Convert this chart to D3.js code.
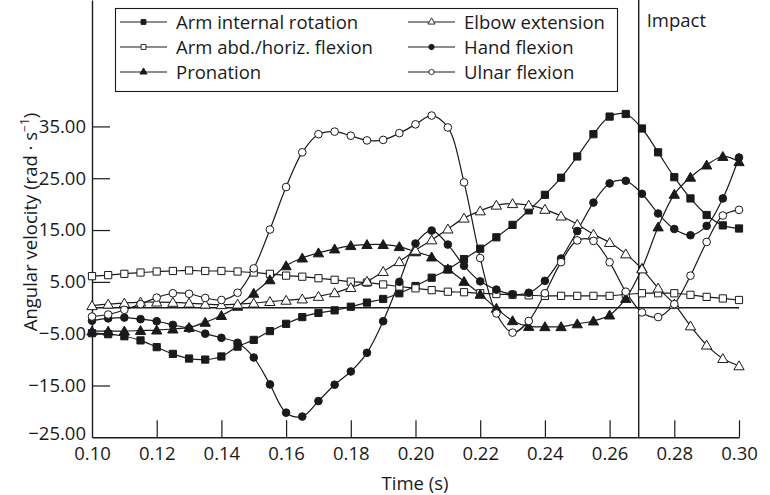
<!DOCTYPE html>
<html>
<head>
<meta charset="utf-8">
<script src="https://cdn.jsdelivr.net/npm/d3@7"></script>
<style>
  html, body { margin: 0; padding: 0; background: #fff; }
  svg { display: block; }
  text { font-family: "Open Sans", "Noto Sans", sans-serif; fill: #1a1a1a; }
</style>
</head>
<body>
<div id="chart"></div>
<script>
// ---- Data ----
const times = [0.100, 0.105, 0.110, 0.115, 0.120, 0.125, 0.130, 0.135, 0.140, 0.145,
               0.150, 0.155, 0.160, 0.165, 0.170, 0.175, 0.180, 0.185, 0.190, 0.195,
               0.200, 0.205, 0.210, 0.215, 0.220, 0.225, 0.230, 0.235, 0.240, 0.245,
               0.250, 0.255, 0.260, 0.265, 0.270, 0.275, 0.280, 0.285, 0.290, 0.295, 0.300];

const armInternalRotation = [-4.9, -5.1, -5.5, -6.3, -7.6, -8.9, -9.8, -10.0, -9.4, -7.5,
  -6.2, -4.5, -3.1, -1.8, -1.0, -0.5, 0.2, 1.0, 1.7, 2.8,
  4.2, 5.8, 7.4, 9.4, 11.4, 13.6, 16.0, 18.8, 21.8, 25.1,
  29.2, 33.5, 36.9, 37.4, 34.6, 30.0, 25.2, 21.1, 17.9, 15.9, 15.3];

const armAbdHorizFlexion = [6.1, 6.3, 6.55, 6.8, 7.0, 7.1, 7.2, 7.1, 7.1, 7.0,
  6.8, 6.55, 6.2, 6.0, 5.7, 5.4, 5.05, 4.85, 4.5, 4.1,
  3.75, 3.4, 3.1, 3.0, 2.8, 2.65, 2.5, 2.4, 2.3, 2.3,
  2.3, 2.3, 2.3, 2.6, 2.8, 2.8, 2.8, 2.5, 2.1, 1.8, 1.5];

const pronation = [-4.5, -4.5, -4.5, -4.4, -4.3, -4.1, -3.8, -2.8, -1.5, 0.3,
  2.8, 5.4, 8.1, 9.6, 10.6, 11.35, 12.0, 12.2, 12.2, 11.8,
  10.8, 9.8, 7.5, 5.1, 2.6, -0.1, -2.5, -3.6, -3.65, -3.65,
  -3.1, -2.55, -1.4, 1.8, 7.6, 15.6, 21.9, 25.2, 27.55, 29.2, 28.2];

const elbowExtension = [0.4, 0.7, 0.9, 1.1, 1.1, 1.05, 0.9, 0.7, 0.6, 0.7,
  0.9, 1.2, 1.45, 1.7, 2.2, 2.9, 3.9, 5.1, 7.0, 8.9,
  11.1, 13.1, 15.2, 17.3, 18.7, 19.8, 20.1, 19.8, 19.0, 17.7,
  16.1, 14.2, 12.6, 10.4, 7.5, 3.8, 0.7, -3.5, -7.2, -9.8, -11.2];

const handFlexion = [-2.5, -2.05, -1.9, -2.2, -2.6, -3.3, -4.0, -5.0, -5.8, -6.75,
  -9.6, -14.8, -20.25, -21.0, -18.0, -14.85, -12.3, -8.7, -2.6, 5.0,
  12.4, 14.9, 12.2, 8.1, 5.1, 3.5, 2.6, 2.9, 5.2, 9.5,
  14.8, 20.3, 24.0, 24.5, 22.0, 18.2, 15.2, 14.0, 15.8, 21.1, 29.0];

const ulnarFlexion = [-1.7, -1.3, -0.4, 0.7, 1.95, 2.8, 2.7, 1.9, 1.5, 2.9,
  7.6, 15.1, 23.3, 30.0, 33.5, 34.0, 33.2, 32.3, 32.4, 33.7,
  35.4, 37.1, 34.8, 24.2, 9.6, -1.1, -4.8, -2.55, 2.8, 8.8,
  13.0, 12.9, 8.8, 3.1, -0.9, -1.8, 0.7, 6.2, 12.7, 17.8, 18.9];

const seriesNames = ["Arm internal rotation", "Arm abd./horiz. flexion", "Pronation",
                     "Elbow extension", "Hand flexion", "Ulnar flexion"];
const seriesValues = [armInternalRotation, armAbdHorizFlexion, pronation,
                      elbowExtension, handFlexion, ulnarFlexion];
const markerShapes = ["square", "square", "triangle", "triangle", "circle", "circle"];
const markerFilled = [true, false, true, false, true, false];

const xTickValues = [0.10, 0.12, 0.14, 0.16, 0.18, 0.20, 0.22, 0.24, 0.26, 0.28, 0.30];
const yTickValues = [-25, -15, -5, 5, 15, 25, 35];
const impactTime = 0.269;

// ---- Layout ----
const W = 770, H = 495;
const ink = "#1a1a1a";
const svg = d3.select("#chart").append("svg").attr("width", W).attr("height", H);

const x = d3.scaleLinear().domain([0.10, 0.30]).range([92, 739]);
const y = d3.scaleLinear().domain([-25, 59.4]).range([437.3, 0]);

// Axes
const fmt = d3.format(".2f");
const minusFmt = v => fmt(v).replace("-", "\u2212");

const yAxis = svg.append("g").attr("transform", `translate(${x(0.10)},0)`)
  .call(d3.axisLeft(y).tickValues(yTickValues).tickSizeInner(-18).tickSizeOuter(0)
        .tickPadding(6).tickFormat(minusFmt));
const xAxis = svg.append("g").attr("transform", `translate(0,${y(-25)})`)
  .call(d3.axisBottom(x).tickValues(xTickValues).tickSizeInner(-17).tickSizeOuter(0)
        .tickPadding(10).tickFormat(fmt));
[yAxis, xAxis].forEach(g => {
  g.selectAll("path.domain").attr("stroke", ink).attr("stroke-width", 1.4);
  g.selectAll(".tick line").attr("stroke", ink).attr("stroke-width", 1.2);
  g.selectAll("text").attr("font-size", 18.5).attr("fill", ink)
    .style("font-family", '"Open Sans", sans-serif');
});
// the -25 tick coincides with the x axis; hide its inward tick line, lift its label a little
const t25 = yAxis.selectAll(".tick").filter(d => d === -25);
t25.select("line").remove();
t25.select("text").attr("dy", "0.12em");
xAxis.selectAll(".tick").filter(d => d === 0.10).select("line").remove();

// zero line
svg.append("line")
  .attr("x1", x(0.10)).attr("x2", x(0.30))
  .attr("y1", y(0)).attr("y2", y(0))
  .attr("stroke", ink).attr("stroke-width", 1.3);

// impact line
svg.append("line")
  .attr("x1", x(impactTime)).attr("x2", x(impactTime))
  .attr("y1", y.range()[1]).attr("y2", y(-25))
  .attr("stroke", ink).attr("stroke-width", 1.4);
svg.append("text").attr("x", x(impactTime) + 8).attr("y", 27)
  .attr("font-size", 18.5).text("Impact");

// Axis titles
svg.append("text").attr("x", 415).attr("y", 490).attr("text-anchor", "middle")
  .attr("font-size", 18.5).text("Time (s)");
const yl = svg.append("text").attr("transform", "translate(37,222) rotate(-90)")
  .attr("text-anchor", "middle").attr("font-size", 18.5);
yl.append("tspan").text("Angular velocity (rad \u00B7 s");
yl.append("tspan").attr("font-size", 12).attr("dy", -8).text("\u22121");
yl.append("tspan").attr("dy", 8).text(")");

// Markers
function symbolFor(shape, big) {
  if (shape === "square") return d3.symbol().type(d3.symbolSquare).size(big ? 52 : 24)();
  if (shape === "triangle") return d3.symbol().type(d3.symbolTriangle).size(big ? 46 : 22)();
  return d3.symbol().type(d3.symbolCircle).size(big ? 46 : 22)();
}

const line = d3.line().x((d, i) => x(times[i])).y(d => y(d)).curve(d3.curveCatmullRom.alpha(0.5));

const plot = svg.append("g");
seriesValues.forEach((vals, s) => {
  plot.append("path").datum(vals).attr("d", line)
    .attr("fill", "none").attr("stroke", ink).attr("stroke-width", 1.2);
});
seriesValues.forEach((vals, s) => {
  const yOff = markerShapes[s] === "triangle" ? 1 : 0;
  plot.append("g").selectAll("path").data(vals).join("path")
    .attr("transform", (d, i) => `translate(${x(times[i])},${y(d) + yOff})`)
    .attr("d", symbolFor(markerShapes[s], true))
    .attr("fill", markerFilled[s] ? ink : "#fff")
    .attr("stroke", ink).attr("stroke-width", 1);
});

// Legend
const legend = svg.append("g");
legend.append("rect").attr("x", 115.5).attr("y", 8.5).attr("width", 502).attr("height", 83)
  .attr("fill", "#fff").attr("stroke", ink).attr("stroke-width", 1.1);
const colX = [120, 408];
const rowY = [22, 47, 72];
seriesNames.forEach((name, s) => {
  const cx = colX[Math.floor(s / 3)], cy = rowY[s % 3];
  const g = legend.append("g");
  g.append("line").attr("x1", cx).attr("x2", cx + 47).attr("y1", cy).attr("y2", cy)
    .attr("stroke", ink).attr("stroke-width", 1.2);
  g.append("path").attr("transform", `translate(${cx + 23.5},${cy})`)
    .attr("d", symbolFor(markerShapes[s], false))
    .attr("fill", markerFilled[s] ? ink : "#fff")
    .attr("stroke", ink).attr("stroke-width", 0.9);
  g.append("text").attr("x", cx + 56).attr("y", cy + 6.5)
    .attr("font-size", 18.5).text(name);
});
</script>
</body>
</html>
